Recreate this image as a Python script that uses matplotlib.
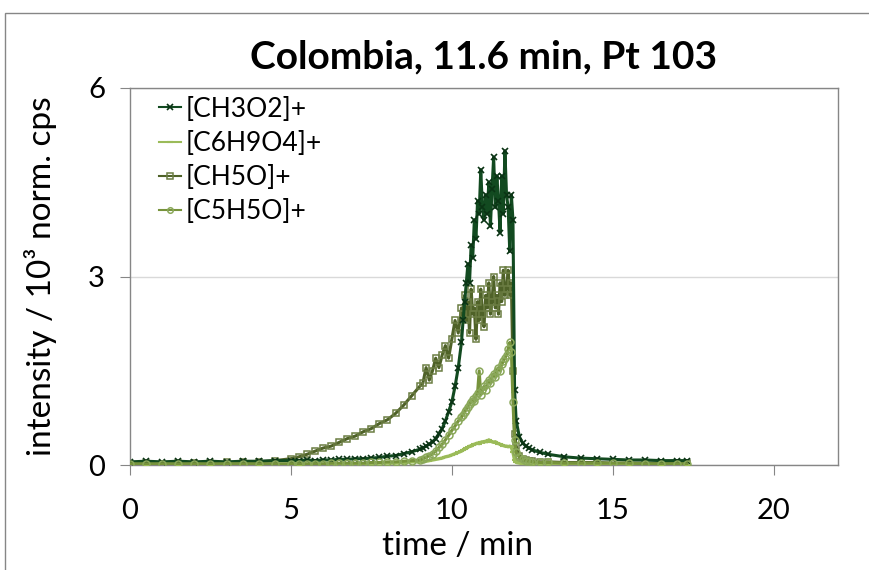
import numpy as np
import matplotlib
matplotlib.use('Agg')
import matplotlib.pyplot as plt
from matplotlib.patches import Rectangle

plt.rcParams['font.family'] = ['Lato', 'DejaVu Sans']

# time / min
time = [0, 0.5, 1, 1.5, 2, 2.5, 3, 3.5, 4, 4.5,
        5, 5.25, 5.5, 5.75, 6, 6.25, 6.5, 6.75, 7, 7.25, 7.5, 7.75, 8, 8.25, 8.5, 8.75, 9,
        9.1, 9.2, 9.3, 9.4, 9.5, 9.6, 9.7, 9.8, 9.9, 10.0, 10.1, 10.2, 10.3,
        10.35, 10.4, 10.45, 10.5, 10.55, 10.6, 10.65, 10.7, 10.75, 10.8, 10.85, 10.9, 10.95, 11.0,
        11.05, 11.1, 11.15, 11.2, 11.25, 11.3, 11.35, 11.4, 11.45, 11.5, 11.55, 11.6, 11.65, 11.7,
        11.75, 11.8, 11.85, 11.9, 11.95, 12.0,
        12.1, 12.2, 12.3, 12.4, 12.5,
        12.75, 13, 13.5, 14, 14.5, 15, 15.5, 16, 16.5, 17, 17.3]

# intensity / 10^3 norm. cps
ch3o2 = [0.05, 0.06, 0.05, 0.06, 0.05, 0.06, 0.05, 0.06, 0.06, 0.07,
         0.07, 0.07, 0.08, 0.07, 0.08, 0.08, 0.09, 0.09, 0.10, 0.10, 0.11, 0.12, 0.14, 0.15, 0.18, 0.21, 0.25,
         0.27, 0.30, 0.33, 0.37, 0.42, 0.50, 0.58, 0.70, 0.85, 1.00, 1.25, 1.55, 1.95,
         2.3, 2.6, 2.9, 3.2, 2.9, 3.5, 3.3, 3.9, 3.6, 4.2, 4.0, 4.7, 4.1, 3.9,
         4.3, 4.0, 4.5, 3.8, 4.4, 4.9, 4.1, 4.6, 4.2, 3.7, 4.6, 4.0, 5.0, 4.3,
         4.1, 3.4, 4.3, 3.9, 1.2, 0.7,
         0.45, 0.35, 0.30, 0.27, 0.24,
         0.20, 0.17, 0.13, 0.11, 0.10, 0.09, 0.08, 0.08, 0.07, 0.07, 0.07]

c6h9o4 = [0.01, 0.0, 0.01, 0.0, 0.01, 0.0, 0.01, 0.01, 0.0, 0.01,
          0.01, 0.0, 0.01, 0.01, 0.01, 0.01, 0.01, 0.02, 0.02, 0.02, 0.02, 0.03, 0.03, 0.03, 0.04, 0.05, 0.05,
          0.06, 0.06, 0.07, 0.08, 0.09, 0.10, 0.11, 0.13, 0.14, 0.16, 0.18, 0.20, 0.22,
          0.24, 0.25, 0.27, 0.28, 0.30, 0.30, 0.32, 0.33, 0.34, 0.35, 0.34, 0.36, 0.37, 0.36,
          0.38, 0.37, 0.40, 0.38, 0.37, 0.36, 0.37, 0.35, 0.34, 0.33, 0.32, 0.31, 0.30, 0.30,
          0.29, 0.30, 0.28, 0.20, 0.08, 0.04,
          0.03, 0.02, 0.02, 0.01, 0.01,
          0.01, 0.01, 0.0, 0.01, 0.0, 0.01, 0.0, 0.01, 0.0, 0.01, 0.0]

ch5o = [0.02, 0.03, 0.02, 0.03, 0.03, 0.03, 0.04, 0.04, 0.05, 0.07,
        0.10, 0.13, 0.17, 0.22, 0.27, 0.30, 0.36, 0.42, 0.46, 0.53, 0.58, 0.66, 0.72, 0.82, 0.95, 1.10, 1.25,
        1.30, 1.55, 1.35, 1.50, 1.70, 1.55, 1.75, 1.90, 1.70, 2.00, 2.30, 2.10, 2.50,
        2.4, 2.7, 2.3, 2.6, 2.1, 2.8, 2.4, 2.5, 2.0, 2.6, 2.3, 2.8, 2.4, 2.2,
        2.7, 2.5, 2.9, 2.4, 2.6, 3.0, 2.5, 2.7, 2.4, 2.9, 2.6, 3.1, 2.7, 2.8,
        3.1, 2.7, 2.9, 1.5, 0.5, 0.3,
        0.15, 0.10, 0.08, 0.07, 0.06,
        0.05, 0.05, 0.04, 0.04, 0.04, 0.03, 0.03, 0.03, 0.03, 0.03, 0.03]

c5h5o = [0.02, 0.02, 0.02, 0.02, 0.02, 0.02, 0.02, 0.02, 0.02, 0.02,
         0.02, 0.02, 0.02, 0.02, 0.02, 0.03, 0.03, 0.03, 0.03, 0.03, 0.04, 0.04, 0.05, 0.05, 0.06, 0.07, 0.08,
         0.10, 0.12, 0.15, 0.18, 0.22, 0.28, 0.33, 0.40, 0.47, 0.55, 0.62, 0.70, 0.76,
         0.80, 0.85, 0.88, 0.93, 0.97, 1.00, 1.05, 1.02, 1.10, 1.15, 1.50, 1.12, 1.20, 1.25,
         1.20, 1.30, 1.35, 1.30, 1.40, 1.45, 1.40, 1.50, 1.55, 1.50, 1.60, 1.65, 1.70, 1.75,
         1.85, 1.95, 1.80, 1.00, 0.40, 0.20,
         0.12, 0.09, 0.07, 0.06, 0.05,
         0.04, 0.04, 0.03, 0.03, 0.03, 0.03, 0.03, 0.02, 0.02, 0.02, 0.02]

fig = plt.figure(figsize=(8.69, 5.7), dpi=100)
ax = fig.add_axes([130/869, 1 - 465/570, (838 - 130)/869, (465 - 88)/570])

ax.plot(time, ch3o2, color='#124a20', lw=2.2, marker='x', ms=5, mew=1.2,
        mec='#0a3314', label='[CH3O2]+', zorder=3)
ax.plot(time, c6h9o4, color='#9bbb59', lw=2.4, marker='_', ms=5, mew=1.5,
        label='[C6H9O4]+', zorder=4)
ax.plot(time, ch5o, color='#4f6228', lw=2.2, marker='s', ms=4.5, mfc='none', mew=1.1,
        mec='#6b7d43', label='[CH5O]+', zorder=2)
ax.plot(time, c5h5o, color='#77933c', lw=2.2, marker='o', ms=5, mfc='none', mew=1.1,
        mec='#8aa85a', label='[C5H5O]+', zorder=5)

ax.set_xlim(0, 22)
ax.set_ylim(0, 6)
ax.set_xticks([0, 5, 10, 15, 20])
ax.set_yticks([0, 3, 6])
ax.yaxis.grid(True, color='#d9d9d9', lw=1)
ax.set_axisbelow(True)
for s in ax.spines.values():
    s.set_color('#868686')
    s.set_linewidth(1)
ax.tick_params(axis='both', direction='out', length=7, color='#868686', labelsize=21)
ax.tick_params(axis='x', pad=17)
ax.tick_params(axis='y', pad=11)

ax.set_xlabel('time / min', fontsize=24)
ax.xaxis.set_label_coords(0.462, -0.175)
ax.set_ylabel('intensity / 10³ norm. cps', fontsize=24, labelpad=22)

fig.text(0.557, 0.9, 'Colombia, 11.6 min, Pt 103', fontsize=28, fontweight='bold',
         ha='center', va='center')

leg = ax.legend(loc='upper left', bbox_to_anchor=(0.022, 1.012), frameon=False, fontsize=19,
                handlelength=0.85, handletextpad=0.15, labelspacing=0.35, borderaxespad=0.1)
for h in leg.get_lines():
    h.set_linewidth(1.5)
    h.set_markersize(4)

# chart border
fig.patches.append(Rectangle((5/869, -0.05), 1.1, 0.05 + 1 - 13/570, transform=fig.transFigure,
                             fill=False, edgecolor='#868686', lw=1))

fig.savefig('out.png', dpi=100)
